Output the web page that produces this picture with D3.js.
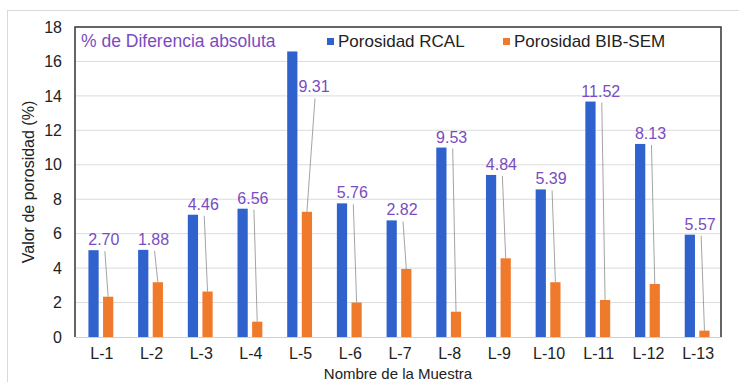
<!DOCTYPE html>
<html>
<head>
<meta charset="utf-8">
<script src="https://cdn.jsdelivr.net/npm/d3@7"></script>
<style>
  body { margin: 0; background: #fff; }
  text { font-family: Arial, "Liberation Sans", sans-serif; }
</style>
</head>
<body>
<div id="chart"></div>
<script>
// values
const muestras = ["L-1","L-2","L-3","L-4","L-5","L-6","L-7","L-8","L-9","L-10","L-11","L-12","L-13"]
const rcal = [5.04, 5.06, 7.10, 7.45, 16.58, 7.76, 6.77, 11.00, 9.41, 8.57, 13.67, 11.21, 5.94]
const bibsem = [2.34, 3.18, 2.64, 0.89, 7.27, 2.00, 3.95, 1.47, 4.57, 3.18, 2.15, 3.08, 0.37]
const difAbs = ["2.70","1.88","4.46","6.56","9.31","5.76","2.82","9.53","4.84","5.39","11.52","8.13","5.57"]
const yTicks = [0,2,4,6,8,10,12,14,16,18]
const series = ["Porosidad RCAL", "Porosidad BIB-SEM"]

const W = 739, H = 382
const m = {left: 75, right: 18, top: 27, bottom: 45}
const colors = {"Porosidad RCAL": "#2f62cc", "Porosidad BIB-SEM": "#f07a2c"}
const purple = "#7a4cc0"

const svg = d3.select("#chart").append("svg")
  .attr("width", W).attr("height", H)

// outer chart frame (light)
svg.append("rect")
  .attr("x", 7.5).attr("y", 10.5)
  .attr("width", W).attr("height", H)
  .attr("fill", "none").attr("stroke", "#d9d9d9")

const x = d3.scaleBand().domain(muestras).range([m.left, W - m.right])
const xs = d3.scaleBand().domain(series).range([0, x.bandwidth() * 0.5]).paddingInner(0.3)
const y = d3.scaleLinear().domain([0, 18]).range([H - m.bottom, m.top])
const gOff = x.bandwidth() * 0.25 + 1

// grid
svg.append("g").selectAll("line")
  .data(yTicks.slice(1, -1))
  .join("line")
  .attr("x1", m.left).attr("x2", W - m.right)
  .attr("y1", d => y(d)).attr("y2", d => y(d))
  .attr("stroke", "#dcdcdc").attr("stroke-width", 1)

// y axis
const yAxis = svg.append("g")
  .attr("transform", `translate(${m.left},0)`)
  .call(d3.axisLeft(y).tickValues(yTicks).tickSize(0).tickPadding(13))
yAxis.select(".domain").remove()
yAxis.selectAll("text").attr("font-size", 16).attr("fill", "#222")

// x axis
const xAxis = svg.append("g")
  .attr("transform", `translate(0,${y(0)})`)
  .call(d3.axisBottom(x).tickSize(0).tickPadding(11))
xAxis.select(".domain").attr("stroke", "#d0d0d0")
xAxis.selectAll("text").attr("font-size", 16).attr("fill", "#222").attr("dx", 2)

// bars
const rows = muestras.map((d, i) => ({m: d, vals: [rcal[i], bibsem[i]], dif: difAbs[i]}))
const groups = svg.append("g").selectAll("g")
  .data(rows)
  .join("g")
  .attr("transform", d => `translate(${x(d.m) + gOff},0)`)
groups.selectAll("rect")
  .data(d => series.map((s, k) => ({s: s, v: d.vals[k]})))
  .join("rect")
  .attr("x", d => xs(d.s))
  .attr("width", xs.bandwidth())
  .attr("y", d => y(d.v))
  .attr("height", d => y(0) - y(d.v))
  .attr("fill", d => colors[d.s])

// plot frame
svg.append("path")
  .attr("d", `M${m.left},${y(0)}V${y(18)}H${W - m.right}V${y(0)}`)
  .attr("fill", "none").attr("stroke", "#333").attr("stroke-width", 1.5)

// difference labels with leader lines
const labY = y(14.2)
rows.forEach((d, i) => {
  const gx = x(d.m) + gOff
  let ly = y(d.vals[0]) - 5
  let lx = gx + x.bandwidth() * 0.25 + 3
  const t = svg.append("text")
    .attr("font-size", 16).attr("fill", purple)
    .attr("text-anchor", "middle")
    .text(d.dif)
  if (ly < labY) {
    // label can't sit above the tall bar, put it beside it
    ly = labY
    const tw = t.node().getComputedTextLength()
    lx = gx + xs(series[0]) + xs.bandwidth() + tw / 2 + 1
  }
  t.attr("x", lx).attr("y", ly)
  svg.append("line")
    .attr("x1", lx + 1).attr("y1", ly + 6)
    .attr("x2", gx + xs(series[1]) + xs.bandwidth() / 2)
    .attr("y2", y(d.vals[1]))
    .attr("stroke", "#8c8c8c").attr("stroke-width", 0.8)
})

// legend
svg.append("text")
  .attr("x", 81).attr("y", 47)
  .attr("font-size", 17.5).attr("fill", purple)
  .text("% de Diferencia absoluta")
const leg = svg.append("g").selectAll("g")
  .data(series)
  .join("g")
  .attr("transform", (d, i) => `translate(${i ? 503 : 327},0)`)
leg.append("rect")
  .attr("x", 0).attr("y", 38).attr("width", 7).attr("height", 7)
  .attr("fill", d => colors[d])
leg.append("text")
  .attr("x", 11).attr("y", 47)
  .attr("font-size", 17).attr("fill", "#222")
  .text(d => d)

// axis titles
svg.append("text")
  .attr("transform", `translate(34,${(y(0) + y(18)) / 2}) rotate(-90)`)
  .attr("text-anchor", "middle")
  .attr("font-size", 16).attr("fill", "#222")
  .text("Valor de porosidad (%)")
svg.append("text")
  .attr("x", 398).attr("y", 379)
  .attr("text-anchor", "middle")
  .attr("font-size", 15).attr("fill", "#222")
  .text("Nombre de la Muestra")
</script>
</body>
</html>
